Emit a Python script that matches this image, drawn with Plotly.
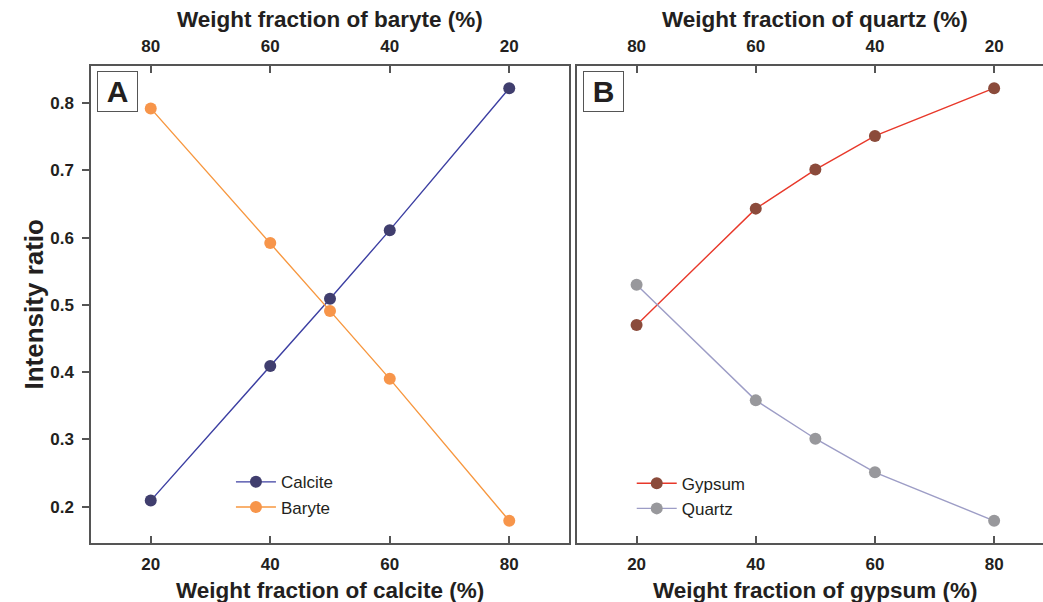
import plotly.graph_objects as go

# ---- data ----
frac = [20, 40, 50, 60, 80]
calcite = [0.209, 0.409, 0.509, 0.611, 0.822]
baryte = [0.792, 0.592, 0.491, 0.390, 0.179]
gypsum = [0.470, 0.643, 0.701, 0.751, 0.822]
quartz = [0.530, 0.358, 0.301, 0.251, 0.179]
bottom_ticks = [20, 40, 60, 80]
top_ticks = [80, 60, 40, 20]
y_ticks = [0.2, 0.3, 0.4, 0.5, 0.6, 0.7, 0.8]

FONT = "Arial, 'Liberation Sans', sans-serif"
TXT = "#231f20"
AX = "#555555"

fig = go.Figure()

def add(x, y, name, mcol, lcol, xa, ya, legend):
    fig.add_trace(go.Scatter(
        x=x, y=y, name=name, mode="lines+markers",
        line=dict(color=lcol, width=1.4),
        marker=dict(color=mcol, size=12),
        xaxis=xa, yaxis=ya, legend=legend))

add(frac, calcite, "Calcite", "#403e6e", "#3c3fa2", "x", "y", "legend")
add(frac, baryte, "Baryte", "#f7954a", "#f7973f", "x", "y", "legend")
add(frac, gypsum, "Gypsum", "#8b4b3b", "#e8382a", "x2", "y2", "legend2")
add(frac, quartz, "Quartz", "#98989c", "#9d9dc6", "x2", "y2", "legend2")

# invisible companions so the top (complementary-fraction) axes are drawn
for xa, ya, yy in (("x3", "y", baryte), ("x4", "y2", quartz)):
    fig.add_trace(go.Scatter(
        x=[100 - f for f in frac], y=yy, mode="markers",
        marker=dict(opacity=0), showlegend=False, hoverinfo="skip",
        xaxis=xa, yaxis=ya))

tickfont = dict(family=FONT, size=17, color=TXT, weight="bold")
xcommon = dict(showline=True, linecolor=AX, linewidth=1.5, ticks="inside",
               ticklen=7, tickwidth=1.5, tickcolor=AX, showgrid=False,
               zeroline=False, tickfont=tickfont, ticklabelstandoff=5)

dA = [0, 0.5021]
dB = [0.5105, 1]
yr = [0.146, 0.855]

fig.update_layout(
    width=1043, height=602,
    margin=dict(l=91, r=0, t=66, b=59),
    paper_bgcolor="white", plot_bgcolor="white",
    font=dict(family=FONT, color=TXT),
    xaxis=dict(domain=dA, range=[10, 90], tickvals=bottom_ticks,
               anchor="y", **xcommon),
    xaxis3=dict(domain=dA, range=[90, 10], tickvals=top_ticks,
                overlaying="x", side="top", anchor="y", **xcommon),
    xaxis2=dict(domain=dB, range=[10, 88.2], tickvals=bottom_ticks,
                anchor="y2", **xcommon),
    xaxis4=dict(domain=dB, range=[90, 11.8], tickvals=top_ticks,
                overlaying="x2", side="top", anchor="y2", **xcommon),
    yaxis=dict(domain=[0, 1], range=yr, tickvals=y_ticks,
               ticktext=[f"{v:.1f}" for v in y_ticks],
               showline=True, mirror=True, linecolor=AX, linewidth=1.5,
               ticks="outside", ticklen=7, tickwidth=1.5, tickcolor=AX,
               showgrid=False, zeroline=False, tickfont=tickfont,
               ticklabelstandoff=5, anchor="x"),
    yaxis2=dict(domain=[0, 1], range=yr, showticklabels=False, ticks="",
                showline=True, mirror=False, linecolor=AX, linewidth=1.5,
                showgrid=False, zeroline=False, anchor="x2"),
    legend=dict(x=0.147, y=0.165, xanchor="left", yanchor="top",
                bgcolor="rgba(0,0,0,0)", itemwidth=40,
                font=dict(family=FONT, size=17, color=TXT), tracegroupgap=0),
    legend2=dict(x=0.568, y=0.162, xanchor="left", yanchor="top",
                 bgcolor="rgba(0,0,0,0)", itemwidth=40,
                 font=dict(family=FONT, size=17, color=TXT), tracegroupgap=0),
)

title_font = dict(family=FONT, size=22.5, color=TXT, weight="bold")
xB_center = (dB[0] + (994 + 59.6 - 91) / 952) / 2
ann = [
    dict(text="Weight fraction of calcite (%)", x=sum(dA) / 2, y=0,
         xanchor="center", yanchor="middle", yshift=-47),
    dict(text="Weight fraction of gypsum (%)", x=xB_center, y=0,
         xanchor="center", yanchor="middle", yshift=-47),
    dict(text="Weight fraction of baryte (%)", x=sum(dA) / 2, y=1,
         xanchor="center", yanchor="middle", yshift=47),
    dict(text="Weight fraction of quartz (%)", x=xB_center, y=1,
         xanchor="center", yanchor="middle", yshift=47),
]
for a in ann:
    a.update(xref="paper", yref="paper", showarrow=False, font=title_font)
ann.append(dict(text="Intensity ratio", x=0, y=0.5, xref="paper", yref="paper",
                xanchor="center", yanchor="middle", xshift=-58, textangle=-90,
                showarrow=False,
                font=dict(family=FONT, size=26, color=TXT, weight="bold")))
for lab, x0 in (("A", 97), ("B", 583)):
    ann.append(dict(text=lab, x=(x0 - 91) / 952, y=1, xref="paper", yref="paper",
                    xanchor="left", yanchor="top", yshift=-5, showarrow=False,
                    width=37, height=37, borderpad=1, bordercolor=AX,
                    borderwidth=1, bgcolor="white",
                    font=dict(family=FONT, size=30, color=TXT, weight="bold")))
fig.update_layout(annotations=ann)

fig.write_html("out.html", config={"displayModeBar": False},
               post_script="document.body.style.margin='0';")
